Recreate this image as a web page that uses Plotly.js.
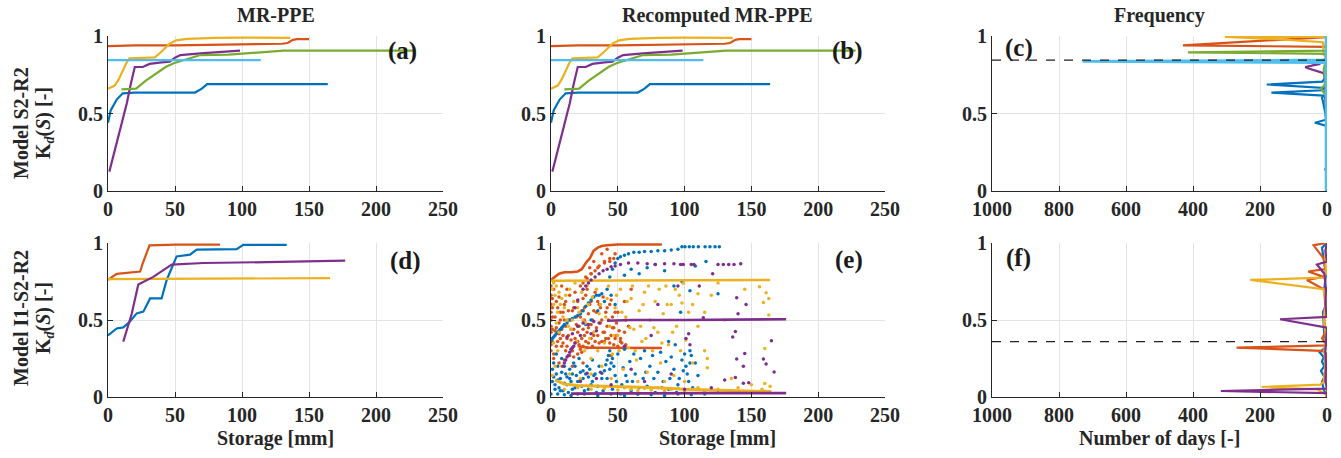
<!DOCTYPE html>
<html><head><meta charset="utf-8">
<script src="https://cdn.plot.ly/plotly-3.0.1.min.js"></script>
<style>html,body{margin:0;padding:0;background:#fff}#chart{width:1341px;height:458px}</style>
</head><body><div id="chart"></div>
<script>
// ---------- Panel (a)/(b): MR-PPE  Kd(S) vs storage, model S2-R2 ----------
const aBlueX=[0,2,6.5,11,20,40,65,70,74,100,130,164];
const aBlueY=[0.44,0.52,0.59,0.63,0.635,0.635,0.635,0.66,0.69,0.69,0.69,0.69];
const aOrangeX=[0,20,50,100,130,134,138,141,150];
const aOrangeY=[0.935,0.94,0.94,0.945,0.95,0.955,0.975,0.98,0.98];
const aYellowX=[0,5,8,11,14,16,25,35,40,46,51,59,80,101,136];
const aYellowY=[0.66,0.68,0.72,0.78,0.83,0.856,0.86,0.862,0.9,0.95,0.972,0.982,0.988,0.99,0.988];
const aPurpleX=[1,6.5,10,14,17,20,26,31,40,46,50,54,69,85,98.5];
const aPurpleY=[0.125,0.31,0.44,0.565,0.69,0.80,0.80,0.82,0.83,0.834,0.86,0.877,0.888,0.895,0.905];
const aGreenX=[10,15,21,28,36,43,49,58,69,90,106,120,131,180,228];
const aGreenY=[0.656,0.657,0.66,0.71,0.76,0.8,0.824,0.85,0.877,0.88,0.888,0.898,0.905,0.905,0.905];
const aCyanX=[0,114];
const aCyanY=[0.845,0.845];

// ---------- Panel (c): frequency, model S2-R2 ----------
const cBlueX=[0,0,36,3,5,8,12,15,10,166,14,10,180,14,8,2,0,0];
const cBlueY=[0,0.42,0.44,0.46,0.5,0.55,0.58,0.6,0.615,0.635,0.65,0.665,0.687,0.705,0.72,0.74,0.76,1];
const cOrangeX=[0,0,8,3,0,430,0,3,0];
const cOrangeY=[0,0.8,0.83,0.86,0.93,0.94,0.993,0.995,0.995];
const cYellowX=[0,0,2,10,12,150,305,0];
const cYellowY=[0,0.84,0.86,0.88,0.96,0.98,0.995,0.995];
const cGreenX=[0,0,5,18,8,5,10,6,3,0,415,0,5,0];
const cGreenY=[0,0.58,0.62,0.66,0.68,0.72,0.78,0.82,0.86,0.885,0.895,0.905,0.93,1];
const cPurpleX=[0,0,5,0,0,3,6,4,10,55,65,20,60,0,0];
const cPurpleY=[0,0.12,0.14,0.16,0.5,0.55,0.6,0.7,0.76,0.79,0.80,0.82,0.83,0.85,1];
const cCyanX=[3,3,730,3,3];
const cCyanY=[0,0.828,0.836,0.846,1];
const cThreshold=0.845;

// ---------- Panel (d): MR-PPE, model I1-S2-R2 ----------
const dBlueX=[0,6.5,11.4,16.4,21.4,26.4,31.4,40,43.8,51.2,61.2,66.2,96,101,133.4];
const dBlueY=[0.40,0.445,0.452,0.49,0.543,0.554,0.64,0.64,0.76,0.913,0.924,0.957,0.96,0.988,0.988];
const dOrangeX=[0,6.5,24,26,31,51,83.6];
const dOrangeY=[0.76,0.80,0.815,0.87,0.985,0.99,0.99];
const dYellowX=[0,80,165.7];
const dYellowY=[0.765,0.768,0.772];
const dPurpleX=[11.4,17.7,22.6,33.8,47.5,71.2,118.4,177];
const dPurpleY=[0.36,0.54,0.73,0.78,0.86,0.87,0.876,0.885];

// ---------- Panel (e): recomputed MR-PPE, model I1-S2-R2 ----------
const eOrangeLineX=[0,3,6,10,15,20,23,26,29,32,35,38,42,50,60,70,83];
const eOrangeLineY=[0.76,0.78,0.8,0.81,0.81,0.815,0.83,0.87,0.9,0.95,0.97,0.98,0.985,0.99,0.99,0.99,0.99];
const eOrangeBandX=[20,28,40,60,83];
const eOrangeBandY=[0.33,0.32,0.32,0.318,0.318];
const eOrangePtsX=[0,0,0,0,0,0,0,0,0,0,3,6,9,12,15,18,21,24,27,5,8,11,14,17,20,23,4,7,10,13,16,19,22,25,28,31,34,37,40,43,46,49,52,55,26,30,33,36,39,42,45,48,18,12,8,22,35,38,44,41,47,50,53,56,15,20,25,30,33,10,6,3,28,2,6,10,16,24,45,50,56,58,60,35,40,44,48,30,38,42,26,55,
1,1,1,1,1,2,2,4,4,5,6,7,7,8,9,9,11,11,12,13,13,14,15,16,17,17,18,19,20,20,21,22,23,23,24,24,25,26,27,27,28,29,30,31,32,32,34,35,36,37,38,39,40,41,42,43,44,45,46,47,48,49,51,52,
24,27,30,33,36,40,44,47,29,32];
const eOrangePtsY=[0.72,0.66,0.6,0.55,0.5,0.46,0.42,0.38,0.34,0.3,0.43,0.41,0.4,0.38,0.37,0.35,0.34,0.33,0.32,0.36,0.33,0.3,0.27,0.26,0.28,0.29,0.62,0.55,0.6,0.5,0.56,0.47,0.52,0.58,0.45,0.5,0.55,0.48,0.42,0.5,0.45,0.4,0.38,0.42,0.66,0.62,0.68,0.6,0.65,0.58,0.63,0.55,0.68,0.7,0.72,0.72,0.4,0.36,0.35,0.38,0.34,0.33,0.35,0.34,0.44,0.42,0.4,0.38,0.36,0.5,0.48,0.52,0.54,0.25,0.22,0.24,0.2,0.22,0.27,0.55,0.5,0.46,0.7,0.84,0.88,0.9,0.93,0.8,0.93,0.96,0.78,0.62,
0.64,0.58,0.52,0.44,0.36,0.7,0.28,0.33,0.45,0.58,0.65,0.38,0.5,0.44,0.55,0.35,0.46,0.62,0.33,0.4,0.56,0.66,0.5,0.3,0.44,0.58,0.38,0.52,0.36,0.62,0.46,0.31,0.38,0.56,0.44,0.64,0.5,0.36,0.42,0.7,0.35,0.6,0.47,0.33,0.56,0.4,0.45,0.62,0.35,0.58,0.5,0.42,0.36,0.55,0.46,0.38,0.6,0.4,0.52,0.45,0.38,0.48,0.43,0.36,
0.74,0.77,0.8,0.82,0.85,0.87,0.88,0.9,0.84,0.88];
const eBluePtsX=[0,1,2,3,4,5,6,7,8,9,10,12,14,16,18,20,22,24,26,28,30,32,34,36,38,44,46,48,50,52,55,58,62,66,70,75,80,85,90,95,98,100.3,103.5,106.5,110.3,115.3,119,122.8,126,
1,2,3,4,5,6,7,8,9,10,12,13,14,15,17,18,19,20,21,22,24,25,27,28,30,31,33,34,36,38,40,41,42,43,44,45,46,48,50,52,54,55,57,59,60,62,63,65,67,69,70,72,74,76,78,80,82,84,86,88,90,92,94,96,98,100,101,102,103,104,106,108,110,
26,30,35,40,42,45,48,55,60,66,72,78,85,92,98,104,88,93,97,125,108,116,
0,5,10,15,25,35,45,55,65,75,85,95,105,115,125,135,
1,2,3,4,5,7,8,10,11,12,14,16,16,18,20,22,23,24,26,28,29,31,32,35,37,39,42,44,46,47,49,53,56,61,66,71,77,83,89,95,99,105,104];
const eBluePtsY=[0.36,0.38,0.39,0.4,0.41,0.42,0.43,0.44,0.45,0.46,0.47,0.48,0.5,0.51,0.52,0.53,0.54,0.56,0.59,0.61,0.63,0.65,0.66,0.66,0.67,0.78,0.83,0.87,0.9,0.91,0.92,0.93,0.94,0.94,0.945,0.945,0.95,0.95,0.955,0.96,0.975,0.976,0.976,0.976,0.976,0.976,0.976,0.976,0.976,
0.1,0.13,0.08,0.15,0.11,0.06,0.12,0.16,0.04,0.09,0.13,0.03,0.18,0.1,0.22,0.06,0.14,0.02,0.25,0.11,0.17,0.04,0.2,0.13,0.08,0.24,0.15,0.03,0.2,0.12,0.17,0.21,0.24,0.27,0.3,0.22,0.05,0.14,0.28,0.02,0.19,0.31,0.1,0.23,0.04,0.28,0.15,0.02,0.25,0.12,0.3,0.07,0.2,0.27,0.03,0.16,0.29,0.1,0.23,0.05,0.26,0.18,0.03,0.12,0.24,0.28,0.2,0.15,0.1,0.3,0.06,0.22,0.14,
0.47,0.5,0.56,0.62,0.7,0.66,0.6,0.79,0.83,0.8,0.84,0.86,0.82,0.72,0.75,0.69,0.36,0.34,0.55,0.67,0.85,0.88,
0.02,0.02,0.015,0.01,0.02,0.01,0.02,0.01,0.02,0.015,0.01,0.02,0.015,0.02,0.03,0.04,
0.18,0.22,0.05,0.28,0.2,0.04,0.25,0.2,0.15,0.08,0.12,0.15,0.05,0.2,0.1,0.16,0.07,0.12,0.15,0.05,0.18,0.1,0.14,0.07,0.16,0.04,0.12,0.18,0.25,0.2,0.1,0.08,0.14,0.1,0.06,0.16,0.12,0.06,0.12,0.08,0.17,0.27,0.22];
const eYellowBandX=[0,164];
const eYellowBandY=[0.755,0.76];
const eYellowLowX=[3,10,20,40,60,80,100,120,140,165];
const eYellowLowY=[0.11,0.085,0.075,0.07,0.065,0.06,0.05,0.045,0.04,0.035];
const eYellowPtsX=[1,3,2,5,4,6,8,10,12,14,15,17,19,21,23,25,26,28,30,32,34,36,38,40,42,44,46,48,50,52,54,56,58,60,62,64,66,68,70,72,74,76,78,80,82,84,86,88,90,92,94,96,98,99,101,103,106,106,110,110,115,115,117,117,120,125,130,135,145,150,156,159,161,163,163,160,160,164,8,14,22,30,45,65,85,100,
10,20,30,40,50,55,60,65,70,75,80,85,90,95,100,105,110,115,125,140,158,
2,4,6,7,9,11,13,16,18,20,24,27,29,31,35,37,41,43,47,49,51,53,57,59,61,63,67,69,71,73,77,81,83,87,91,93,97,2,5,3,1];
const eYellowPtsY=[0.7,0.66,0.6,0.55,0.48,0.42,0.64,0.58,0.5,0.7,0.44,0.62,0.36,0.55,0.68,0.3,0.48,0.6,0.25,0.42,0.7,0.54,0.2,0.35,0.64,0.46,0.28,0.58,0.4,0.7,0.18,0.52,0.32,0.64,0.44,0.24,0.56,0.36,0.68,0.16,0.5,0.3,0.62,0.42,0.22,0.54,0.72,0.34,0.6,0.14,0.46,0.66,0.61,0.738,0.37,0.55,0.6,0.22,0.46,0.67,0.3,0.55,0.25,0.19,0.66,0.74,0.5,0.12,0.7,0.08,0.716,0.613,0.677,0.64,0.533,0.315,0.088,0.07,0.2,0.15,0.12,0.15,0.12,0.1,0.1,0.1,
0.05,0.06,0.05,0.055,0.045,0.06,0.05,0.04,0.055,0.045,0.06,0.04,0.05,0.055,0.04,0.05,0.06,0.035,0.05,0.06,0.05,
0.74,0.72,0.68,0.6,0.52,0.66,0.46,0.5,0.74,0.58,0.5,0.72,0.38,0.65,0.3,0.6,0.52,0.72,0.4,0.66,0.3,0.55,0.62,0.45,0.72,0.3,0.46,0.6,0.38,0.72,0.45,0.7,0.35,0.6,0.42,0.7,0.3,0.35,0.3,0.2,0.14];
const ePurpleBandX=[42,60,100,140,176];
const ePurpleBandY=[0.495,0.5,0.5,0.505,0.505];
const ePurpleLowX=[15,60,120,176];
const ePurpleLowY=[0.022,0.025,0.025,0.025];
const ePurplePtsX=[9,10,11,12,13,14,15,16,17,18,24,26,28,30,33,36,39,42,45,48,52,58,65,72,78,85,92,97,99,105,107,125,129,133,137,142,
20,24,28,32,36,12,16,22,30,34,27,34,38,20,18,22,45,55,60,70,75,80,90,95,103,104,101,114,111,121,139,146,140,138,136,165,145,139,159,144,161,167,138,148,144,120,100,130];
const ePurplePtsY=[0.2,0.22,0.24,0.26,0.27,0.29,0.31,0.32,0.33,0.35,0.7,0.72,0.74,0.76,0.78,0.8,0.82,0.83,0.845,0.85,0.86,0.87,0.87,0.865,0.86,0.865,0.865,0.86,0.86,0.86,0.86,0.86,0.86,0.86,0.86,0.865,
0.46,0.48,0.47,0.49,0.48,0.39,0.41,0.4,0.41,0.43,0.155,0.12,0.155,0.63,0.58,0.1,0.08,0.33,0.18,0.1,0.4,0.6,0.15,0.72,0.41,0.34,0.38,0.515,0.72,0.8,0.645,0.6,0.54,0.425,0.39,0.365,0.283,0.247,0.247,0.2,0.214,0.162,0.127,0.093,0.09,0.06,0.05,0.11];

// ---------- Panel (f): frequency, model I1-S2-R2 ----------
const fBlueX=[0,10,15,8,18,8,15,10,22,5,8,12,3,8,3,10,15,0];
const fBlueY=[0,0.05,0.1,0.13,0.17,0.2,0.23,0.26,0.29,0.32,0.4,0.55,0.6,0.7,0.8,0.9,0.97,1];
const fOrangeX=[0,0,15,270,0,15,5,8,3,10,60,10,56,5,10,40,5];
const fOrangeY=[0,0.28,0.3,0.32,0.335,0.38,0.42,0.5,0.6,0.7,0.76,0.78,0.815,0.83,0.9,0.985,1];
const fYellowX=[0,5,30,195,20,10,5,8,3,10,5,10,229,10,3,5,0];
const fYellowY=[0,0.02,0.05,0.065,0.08,0.1,0.2,0.3,0.4,0.5,0.6,0.7,0.76,0.775,0.8,0.9,1];
const fPurpleX=[0,0,317,0,5,3,5,0,140,0,5,3,8,30,0,5,0];
const fPurpleY=[0,0.025,0.039,0.055,0.1,0.2,0.3,0.45,0.505,0.52,0.6,0.7,0.8,0.86,0.88,0.95,1];
const fThreshold=0.36;

// ---------- labels ----------
const colTitles=['MR-PPE','Recomputed MR-PPE','Frequency'];
const rowModels=['Model S2-R2','Model I1-S2-R2'];
const yLabel='K<sub><i>d</i></sub>(<i>S</i>) [-]';
const panelTags=['(a)','(b)','(c)','(d)','(e)','(f)'];
const storageTicks=[0,50,100,150,200,250];
const daysTicks=[1000,800,600,400,200,0];
const kdTicks=[0,0.5,1];

// ---------- style ----------
const C={blue:'#0072BD',orange:'#D95319',yellow:'#EDB120',purple:'#7E2F8E',green:'#77AC30',cyan:'#4DBEEE'};
const FONT='Liberation Serif';
const TXT='#262626';

const traces=[];
function line(x,y,color,ax,w){traces.push({x:x,y:y,type:'scatter',mode:'lines',line:{color:color,width:w||2.2},xaxis:'x'+ax,yaxis:'y'+ax,hoverinfo:'skip',showlegend:false});}
function pts(x,y,color,ax,s){traces.push({x:x,y:y,type:'scatter',mode:'markers',marker:{color:color,size:s||3.5,line:{width:0}},xaxis:'x'+ax,yaxis:'y'+ax,hoverinfo:'skip',showlegend:false});}

// (a) and (b)
[1,2].forEach(ax=>{
  line(aBlueX,aBlueY,C.blue,ax);
  line(aOrangeX,aOrangeY,C.orange,ax);
  line(aYellowX,aYellowY,C.yellow,ax);
  line(aPurpleX,aPurpleY,C.purple,ax);
  line(aGreenX,aGreenY,C.green,ax);
  line(aCyanX,aCyanY,C.cyan,ax);
});
// (c)
line(cBlueX,cBlueY,C.blue,3,2.2);
line(cOrangeX,cOrangeY,C.orange,3,2.2);
line(cYellowX,cYellowY,C.yellow,3,2.2);
line(cPurpleX,cPurpleY,C.purple,3,2.2);
line(cGreenX,cGreenY,C.green,3,2.2);
line(cCyanX,cCyanY,C.cyan,3,2.6);
traces.push({x:[1000,0],y:[cThreshold,cThreshold],type:'scatter',mode:'lines',line:{color:'#222',width:1.2,dash:'dash'},xaxis:'x3',yaxis:'y3',hoverinfo:'skip',showlegend:false});
// (d)
line(dBlueX,dBlueY,C.blue,4);
line(dOrangeX,dOrangeY,C.orange,4);
line(dYellowX,dYellowY,C.yellow,4);
line(dPurpleX,dPurpleY,C.purple,4);
// (e)
pts(eOrangePtsX,eOrangePtsY,C.orange,5);
line(eOrangeLineX,eOrangeLineY,C.orange,5,2.6);
line(eOrangeBandX,eOrangeBandY,C.orange,5,2.6);
pts(eBluePtsX,eBluePtsY,C.blue,5);
pts(eYellowPtsX,eYellowPtsY,C.yellow,5);
line(eYellowBandX,eYellowBandY,C.yellow,5,2.6);
line(eYellowLowX,eYellowLowY,C.yellow,5,3);
pts(ePurplePtsX,ePurplePtsY,C.purple,5);
line(ePurpleBandX,ePurpleBandY,C.purple,5,2.6);
line(ePurpleLowX,ePurpleLowY,C.purple,5,2.6);
// (f)
line(fBlueX,fBlueY,C.blue,6,2.2);
line(fOrangeX,fOrangeY,C.orange,6,2.2);
line(fYellowX,fYellowY,C.yellow,6,2.2);
line(fPurpleX,fPurpleY,C.purple,6,2.2);
traces.push({x:[1000,0],y:[fThreshold,fThreshold],type:'scatter',mode:'lines',line:{color:'#222',width:1.2,dash:'dash'},xaxis:'x6',yaxis:'y6',hoverinfo:'skip',showlegend:false});

const W=1341,H=458;
const xDom=[[108/W,443/W],[551/W,885/W],[992/W,1327/W]];
const yDom=[[1-191/H,1-36/H],[1-397/H,1-243/H]];
const tickFont={family:FONT,size:20,color:TXT,weight:'bold'};
function xax(ax){
  const col=(ax-1)%3;
  const freq=col===2;
  return {domain:xDom[col],anchor:'y'+ax,range:freq?[1000,0]:[0,250],
    tickvals:freq?daysTicks:storageTicks,ticktext:(freq?daysTicks:storageTicks).map(String),
    ticks:'inside',ticklen:5,tickcolor:TXT,showline:true,linecolor:TXT,linewidth:1,mirror:false,
    showgrid:true,gridcolor:'#e3e3e3',gridwidth:1,zeroline:false,tickfont:tickFont,fixedrange:true};
}
function yax(ax){
  const row=ax<=3?0:1;
  return {domain:yDom[row],anchor:'x'+ax,range:[0,1],tickvals:kdTicks,ticktext:['0','0.5','1'],
    ticks:'inside',ticklen:5,tickcolor:TXT,showline:true,linecolor:TXT,linewidth:1,mirror:false,
    showgrid:true,gridcolor:'#e3e3e3',gridwidth:1,zeroline:false,tickfont:tickFont,fixedrange:true};
}
const layout={width:W,height:H,margin:{l:0,r:0,t:0,b:0},paper_bgcolor:'#fff',plot_bgcolor:'#fff',showlegend:false,annotations:[]};
for(let a=1;a<=6;a++){
  layout['xaxis'+(a===1?'':a)]=xax(a);
  layout['yaxis'+(a===1?'':a)]=yax(a);
}
const bold=(s,c)=>({family:FONT,size:s,color:c||TXT,weight:'bold'});
colTitles.forEach((t,i)=>layout.annotations.push({text:t,xref:'paper',yref:'paper',x:(xDom[i][0]+xDom[i][1])/2,y:1-15/H,xanchor:'center',yanchor:'middle',showarrow:false,font:bold(20)}));
const rowCy=[123,318];
rowModels.forEach((t,i)=>{
  layout.annotations.push({text:t,xref:'paper',yref:'paper',x:21/W,y:1-rowCy[i]/H,xanchor:'center',yanchor:'middle',textangle:-90,showarrow:false,font:bold(20)});
  layout.annotations.push({text:yLabel,xref:'paper',yref:'paper',x:44/W,y:1-rowCy[i]/H,xanchor:'center',yanchor:'middle',textangle:-90,showarrow:false,font:bold(20)});
});
['Storage [mm]','Storage [mm]','Number of days [-]'].forEach((t,i)=>layout.annotations.push({text:t,xref:'paper',yref:'paper',x:(xDom[i][0]+xDom[i][1])/2,y:1-438/H,xanchor:'center',yanchor:'middle',showarrow:false,font:bold(20)}));
const tagPos=[[220,0.9],[222,0.9],[920,0.92],[222,0.88],[223,0.89],[922,0.9]];
panelTags.forEach((t,i)=>layout.annotations.push({text:t,xref:'x'+(i+1),yref:'y'+(i+1),x:tagPos[i][0],y:tagPos[i][1],xanchor:'center',yanchor:'middle',showarrow:false,font:bold(25,'#1a1a1a')}));

Plotly.newPlot('chart',traces,layout,{staticPlot:true,displayModeBar:false});
</script></body></html>
